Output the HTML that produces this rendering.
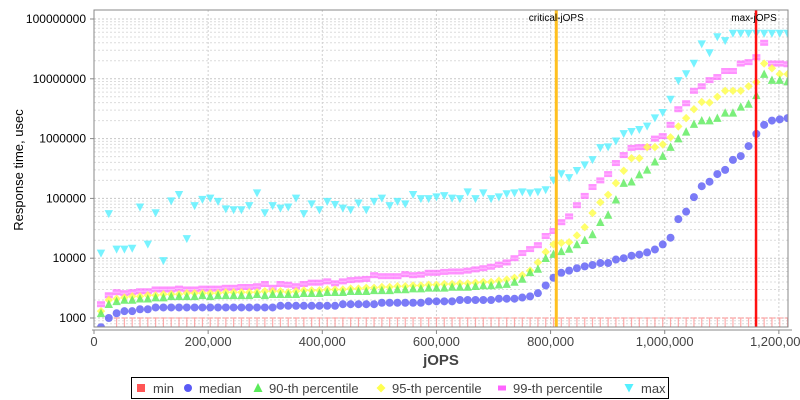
<!DOCTYPE html>
<html><head><meta charset="utf-8"><style>
html,body{margin:0;padding:0;background:#fff;}
svg{display:block;font-family:"Liberation Sans","DejaVu Sans",sans-serif;}
</style></head><body>
<svg id="chart" width="800" height="400" viewBox="0 0 800 400" xmlns="http://www.w3.org/2000/svg">
<rect x="0" y="0" width="800" height="400" fill="#fff"/>
<g id="grid"></g>
<g id="marks"></g>
<g id="axes"></g>
<g id="legend"></g>
</svg>
<script>
const jops = [12270,25940,39610,53280,66950,80620,94290,107960,121630,135300,148970,162640,176310,189980,203650,217320,230990,244660,258330,272000,285670,299340,313010,326680,340350,354020,367690,381360,395030,408700,422370,436040,449710,463380,477050,490720,504390,518060,531730,545400,559070,572740,586410,600080,613750,627420,641090,654760,668430,682100,695770,709440,723110,736780,750450,764120,777790,791460,805130,818800,832470,846140,859810,873480,887150,900820,914490,928160,941830,955500,969170,982840,996510,1010180,1023850,1037520,1051190,1064860,1078530,1092200,1105870,1119540,1133210,1146880,1160550,1174220,1187890,1201560,1215230];
const minVals = [500,500,1000,1000,1000,1000,1000,1000,1000,1000,1000,1000,1000,1000,1000,1000,1000,1000,1000,1000,1000,1000,1000,1000,1000,1000,1000,1000,1000,1000,1000,1000,1000,1000,1000,1000,1000,1000,1000,1000,1000,1000,1000,1000,1000,1000,1000,1000,1000,1000,1000,1000,1000,1000,1000,1000,1000,1000,1000,1000,1000,1000,1000,1000,1000,1000,1000,1000,1000,1000,1000,1000,1000,1000,1000,1000,1000,1000,1000,1000,1000,1000,1000,1000,1000,1000,1000,1000,1000];
const medianVals = [700,1000,1200,1300,1300,1400,1400,1500,1500,1500,1500,1500,1500,1500,1500,1500,1500,1500,1500,1500,1500,1500,1500,1600,1600,1600,1600,1600,1600,1600,1600,1700,1700,1700,1700,1700,1800,1800,1800,1800,1800,1800,1900,1900,1900,1900,2000,2000,2000,2000,2000,2100,2100,2100,2200,2300,
2600,3500,4700,5700,6200,6800,7300,7700,8300,8300,9500,10000,11000,11500,12500,14000,17000,22000,45000,60000,105000,160000,190000,255000,300000,440000,510000,750000,1200000,1700000,2000000,2100000,2200000];
const p90Vals = [1200,1700,1900,2000,2000,2100,2100,2200,2200,2300,2300,2300,2300,2400,2300,2400,2400,2400,2400,2400,2500,2400,2500,2500,2500,2500,2600,2600,2600,2700,2700,2700,2800,2800,2800,2900,2900,2900,3000,3000,3100,3100,3200,3200,3200,3300,3300,3300,3400,3500,3500,3600,3700,4000,4500,5800,
6600,10000,11700,13000,14300,17000,20000,25000,40000,53000,95000,180000,190000,250000,300000,410000,510000,720000,1000000,1300000,1750000,2000000,2000000,2200000,2700000,2700000,3400000,3800000,5300000,12000000,9500000,9500000,9000000];
const p95Vals = [1300,2000,2100,2200,2300,2300,2400,2400,2500,2500,2500,2600,2600,2600,2600,2600,2700,2700,2700,2700,2700,2800,2800,2800,2700,2800,2900,2900,2900,3000,3000,3000,3100,3100,3200,3200,3300,3300,3400,3400,3500,3500,3600,3600,3700,3700,3800,3800,3900,4000,4000,4200,4400,4700,5200,6200,8500,
12700,17000,18000,18500,24000,33000,57000,86000,115000,180000,290000,470000,470000,720000,720000,800000,1050000,1600000,2200000,3100000,4100000,4000000,5000000,6300000,6300000,6300000,7500000,8800000,18000000,15000000,12000000,12000000];
const p99Vals = [1700,2400,2700,2600,2700,2800,2800,3000,3000,3000,3100,3000,3000,3100,3100,3100,3200,3200,3300,3300,3400,3700,3200,3700,3600,3400,3700,3900,3900,4100,3800,4100,4300,4400,4500,5200,5000,5000,5000,5400,5200,5300,5700,5700,5900,6000,6000,6200,6500,6800,7200,7800,8500,10000,
12200,14200,16500,23500,28500,40000,50000,77000,110000,155000,200000,255000,390000,530000,700000,720000,720000,1000000,1100000,1700000,3100000,3900000,6300000,7500000,9500000,10700000,13500000,13500000,18000000,19000000,23000000,40000000,18000000,18000000,17500000];
const maxVals = [12000,55000,14000,14000,14500,71000,17000,57000,9000,90000,115000,21000,75000,95000,100000,88000,66000,64000,64000,75000,122000,57000,75000,68000,71000,100000,55000,80000,64000,88000,78000,68000,64000,83000,64000,88000,100000,75000,88000,
80000,
115000,98000,98000,105000,110000,100000,98000,127000,98000,122000,98000,105000,118000,122000,127000,122000,127000,138000,200000,255000,220000,290000,360000,440000,700000,720000,900000,1200000,1300000,1400000,1600000,2200000,2700000,4500000,9200000,12000000,18000000,38000000,27000000,50000000,43000000,57000000,57000000,57000000,57000000,57000000,57000000,57000000,57000000];
const xTicks = [0,200000,400000,600000,800000,1000000,1200000];
const xTickLabels = ["0","200,000","400,000","600,000","800,000","1,000,000","1,200,000"];
const yTicks = [1000,10000,100000,1000000,10000000,100000000];
const yTickLabels = ["1000","10000","100000","1000000","10000000","100000000"];
const criticalJops = 810000;
const maxJops = 1160000;

const NS = "http://www.w3.org/2000/svg";
const L = 94, R = 788, T = 10, B = 327;
function xs(v){ return L + v * (R - L) / 1216000; }
function ys(v){ return 318 - (Math.log10(v) - 3) * 59.8; }
function mk(tag, attrs, parent){
  const e = document.createElementNS(NS, tag);
  for (const k in attrs) e.setAttribute(k, attrs[k]);
  parent.appendChild(e);
  return e;
}
const grid = document.getElementById('grid');
const marks = document.getElementById('marks');
const axes = document.getElementById('axes');
const legend = document.getElementById('legend');

const defs = mk('defs', {}, document.getElementById('chart'));
const cp = mk('clipPath', {id:'plotclip'}, defs);
mk('rect', {x:L, y:T, width:R-L, height:B-T}, cp);
marks.setAttribute('clip-path', 'url(#plotclip)');
grid.setAttribute('clip-path', 'url(#plotclip)');

for (let d = 2; d <= 8; d++) {
  for (let k = 1; k <= 9; k++) {
    const v = k * Math.pow(10, d);
    const y = ys(v);
    if (y < T || y > B) continue;
    const g = mk('line', {x1:L, x2:R, y1:y, y2:y, stroke: k===1 ? '#c8c8c8' : '#dcdcdc', 'stroke-width':1, 'stroke-dasharray':'2,2'}, grid);
    
    
  }
}
xTicks.forEach(function(t){
  const x = xs(t);
  const g = mk('line', {x1:x, x2:x, y1:T, y2:B, stroke:'#d0d0d0', 'stroke-width':1, 'stroke-dasharray':'2,2'}, grid);
  
  
});

jops.forEach(function(j, i){
  const x = xs(j), y = ys(minVals[i]);
  const g = mk('path', {d:'M'+(x-3)+' '+y+' H'+(x+3)+' M'+x+' '+y+' V'+B, stroke:'#ff9090', 'stroke-width':1.2, fill:'none', opacity:0.75}, marks);
  
  
});
jops.forEach(function(j, i){
  const x = xs(j), y = ys(maxVals[i]);
  const g = mk('path', {d:'M'+(x-4.2)+' '+(y-3.8)+' L'+(x+4.2)+' '+(y-3.8)+' L'+x+' '+(y+4.2)+' Z', fill:'rgba(85,240,255,0.8)'}, marks);
  
  
});
jops.forEach(function(j, i){
  const x = xs(j), y = ys(p99Vals[i]);
  const g = mk('rect', {x:x-4, y:y-3, width:8, height:6, fill:'rgba(255,100,255,0.7)'}, marks);
  
  
  const h = mk('line', {x1:x-4, x2:x+4, y1:y, y2:y, stroke:'rgba(255,200,255,0.8)', 'stroke-width':1}, marks);
  
  
});
jops.forEach(function(j, i){
  const x = xs(j), y = ys(p95Vals[i]);
  const g = mk('path', {d:'M'+x+' '+(y-4.2)+' L'+(x+4.2)+' '+y+' L'+x+' '+(y+4.2)+' L'+(x-4.2)+' '+y+' Z', fill:'rgba(255,255,80,0.85)'}, marks);
  
  
});
jops.forEach(function(j, i){
  const x = xs(j), y = ys(p90Vals[i]);
  const g = mk('path', {d:'M'+x+' '+(y-4.6)+' L'+(x+4.2)+' '+(y+3.8)+' L'+(x-4.2)+' '+(y+3.8)+' Z', fill:'rgba(90,235,90,0.8)'}, marks);
  
  
});
jops.forEach(function(j, i){
  const x = xs(j), y = ys(medianVals[i]);
  const g = mk('circle', {cx:x, cy:y, r:4, fill:'rgba(90,90,245,0.8)'}, marks);
  
  
});

(function(){
  const xc = xs(criticalJops), xm = xs(maxJops);
  let g = mk('line', {x1:xc, x2:xc, y1:T, y2:B, stroke:'#ffc020', 'stroke-width':3}, axes);
  
  
  g = mk('line', {x1:xm, x2:xm, y1:T, y2:B, stroke:'#ff1010', 'stroke-width':2.5}, axes);
  
  
  g = mk('text', {x:xc, y:21, 'font-size':10, 'text-anchor':'middle', fill:'#000'}, axes);
  g.textContent = 'critical-jOPS';
  
  
  g = mk('text', {x:xm-2, y:21, 'font-size':10, 'text-anchor':'middle', fill:'#000'}, axes);
  g.textContent = 'max-jOPS';
  
  
})();

let fr = mk('rect', {x:L, y:T, width:R-L, height:B-T, fill:'none', stroke:'#888', 'stroke-width':1}, axes);



yTicks.forEach(function(t, i){
  const y = ys(t);
  let g = mk('line', {x1:L-4, x2:L, y1:y, y2:y, stroke:'#888'}, axes);
  
  
  g = mk('text', {x:L-8, y:y+4, 'font-size':12, 'text-anchor':'end', fill:'#000'}, axes);
  g.textContent = yTickLabels[i];
  
  
});
xTicks.forEach(function(t, i){
  const x = xs(t);
  let g = mk('line', {x1:x, x2:x, y1:B+3, y2:B+7, stroke:'#888'}, axes);
  
  
  g = mk('text', {x:x, y:B+19, 'font-size':13, 'text-anchor':'middle', fill:'#444'}, axes);
  g.textContent = xTickLabels[i];
  
  
});
let bl = mk('line', {x1:L-2, x2:R+4, y1:B+3, y2:B+3, stroke:'#888'}, axes);



let xt = mk('text', {x:441, y:365, 'font-size':15, 'font-weight':'bold', 'text-anchor':'middle', fill:'#444'}, axes);
xt.textContent = 'jOPS';


let yt = mk('text', {x:0, y:0, 'font-size':13, 'text-anchor':'middle', fill:'#000', transform:'translate(23,170) rotate(-90)'}, axes);
yt.textContent = 'Response time, usec';



let lb = mk('rect', {x:131.5, y:377.5, width:537, height:21, fill:'#fff', stroke:'#000', 'stroke-width':1}, legend);


const legendLabels = ['min','median','90-th percentile','95-th percentile','99-th percentile','max'];
const legendX = [141,188,258,381,502,629];
const legendTextX = [153,199,269,392,513,641];
legendLabels.forEach(function(lab, i){
  const cx = legendX[i], cy = 388;
  let m;
  if (i===0) m = mk('rect', {x:cx-4, y:cy-4, width:8, height:8, fill:'#ff5555'}, legend);
  else if (i===1) m = mk('circle', {cx:cx, cy:cy, r:4, fill:'#5a5af5'}, legend);
  else if (i===2) m = mk('path', {d:'M'+cx+' '+(cy-5)+' L'+(cx+4.5)+' '+(cy+4)+' L'+(cx-4.5)+' '+(cy+4)+' Z', fill:'#5aeb5a'}, legend);
  else if (i===3) m = mk('path', {d:'M'+cx+' '+(cy-4.5)+' L'+(cx+4.5)+' '+cy+' L'+cx+' '+(cy+4.5)+' L'+(cx-4.5)+' '+cy+' Z', fill:'#ffff50'}, legend);
  else if (i===4) m = mk('rect', {x:cx-4, y:cy-2.5, width:8, height:5, fill:'#ff64ff'}, legend);
  else m = mk('path', {d:'M'+(cx-4.5)+' '+(cy-4)+' L'+(cx+4.5)+' '+(cy-4)+' L'+cx+' '+(cy+4.5)+' Z', fill:'#55f0ff'}, legend);
  
  
  const t = mk('text', {x:legendTextX[i], y:393, 'font-size':13, fill:'#444'}, legend);
  t.textContent = lab;
  
  
});
</script>
</body></html>
